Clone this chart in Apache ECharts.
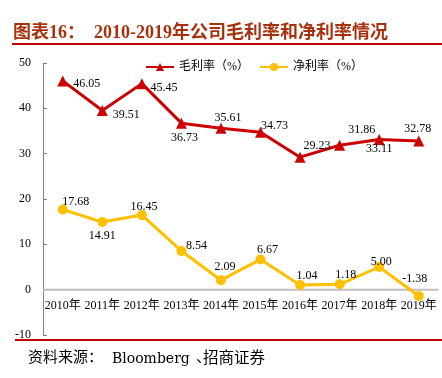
<!DOCTYPE html>
<html><head><meta charset="utf-8">
<script src="https://cdn.jsdelivr.net/npm/echarts@6/dist/echarts.min.js"></script>
<style>html,body{margin:0;padding:0;background:#fff}#c{width:442px;height:378px}</style>
</head><body><div id="c"></div>
<script>
const categories = ['2010年','2011年','2012年','2013年','2014年','2015年','2016年','2017年','2018年','2019年'];
const grossMargin = [46.05, 39.51, 45.45, 36.73, 35.61, 34.73, 29.23, 31.86, 33.11, 32.78];
const netMargin = [17.68, 14.91, 16.45, 8.54, 2.09, 6.67, 1.04, 1.18, 5.00, -1.38];
const seriesNames = ['毛利率（%）', '净利率（%）'];
const yTicks = {min: -10, max: 50, interval: 10};

// label offsets (styling) relative to each point
const grossOffsets = [[24,3],[24,4],[22,4],[3,15],[7,-10],[14,-6],[17,-11],[22,-15],[0,9],[-1,-12]];
const netOffsets = [[13,-8],[0,14],[2,-8],[15,-5],[4,-13],[7,-10],[7,-9],[6,-9],[2,-5],[-4,-17]];

const serif = '"Liberation Serif","Times New Roman","Noto Sans CJK SC",serif';
function mk(vals, offs){
  return vals.map((v,i)=>({value:v, label:{offset:offs[i]}}));
}
const gridTop = 63, gridBottom = 43, gridLeft = 43, gridRight = 3.5, W = 442, H = 378;
const plotH = H - gridTop - gridBottom;
const zeroOffset = -plotH * (0 - yTicks.min) / (yTicks.max - yTicks.min);

const chart = echarts.init(document.getElementById('c'));
chart.setOption({
  animation:false,
  graphic:[
    {id:'title', type:'text', left:13, top:24, style:{text:'图表16：  2010-2019年公司毛利率和净利率情况', font:'bold 18px '+serif, fill:'#A8300D'}},
    {id:'r1', type:'rect', shape:{x:12,y:43,width:430,height:2}, style:{fill:'#C00000'}},
    {id:'r2', type:'rect', shape:{x:15,y:339,width:427,height:2}, style:{fill:'#C00000'}},
    {id:'f1', type:'text', left:28, top:351, style:{text:'资料来源：', font:'15px '+serif, fill:'#000'}},
    {id:'f2', type:'text', left:112, top:352, style:{text:'Bloomberg', font:'14px "DejaVu Serif",serif', fill:'#000'}},
    {id:'f3', type:'text', left:196, top:351, style:{text:'、', font:'15px '+serif, fill:'#000'}},
    {id:'f4', type:'text', left:203, top:351, style:{text:'招商证券', font:'15.5px '+serif, fill:'#000'}}
  ],
  legend:{
    left:145, top:61, padding:0, itemWidth:28, itemHeight:10, itemGap:10,
    textStyle:{fontFamily:serif, fontSize:12, color:'#000'},
    data:seriesNames
  },
  grid:{left:gridLeft, right:gridRight, top:gridTop, bottom:gridBottom, containLabel:false},
  xAxis:{
    type:'category', data:categories, boundaryGap:true,
    offset: zeroOffset,
    axisLine:{show:false},
    axisTick:{show:false},
    axisLabel:{fontFamily:serif, fontSize:12, color:'#000', margin:10, interval:0}
  },
  yAxis:{
    type:'value', min:yTicks.min, max:yTicks.max, interval:yTicks.interval,
    axisLine:{show:true, lineStyle:{color:'#808080', width:1}},
    axisTick:{show:true, inside:true, length:4, lineStyle:{color:'#808080'}},
    splitLine:{show:false},
    axisLabel:{fontFamily:serif, fontSize:12, color:'#000', margin:12}
  },
  series:[
    {name:seriesNames[0], type:'line', data:mk(grossMargin, grossOffsets),
     symbol:'triangle', symbolSize:11, lineStyle:{color:'#CC0000', width:3},
     itemStyle:{color:'#CC0000'}, z:3,
     label:{show:true, position:'inside', fontFamily:serif, fontSize:12, color:'#000', formatter:p=>p.value.toFixed(2)}},
    {name:seriesNames[1], type:'line', data:mk(netMargin, netOffsets),
     symbol:'circle', symbolSize:10, lineStyle:{color:'#FFC000', width:3},
     itemStyle:{color:'#FFC000'}, z:3,
     label:{show:true, position:'inside', fontFamily:serif, fontSize:12, color:'#000', formatter:p=>p.value.toFixed(2)}}
  ]
});
// zero line placed through the library's y scale
const y0 = chart.convertToPixel({yAxisIndex:0}, 0);
chart.setOption({
  graphic:[
    {id:'zero', type:'line', z:1, shape:{x1:gridLeft, y1:y0, x2:W-gridRight, y2:y0},
     style:{stroke:'#BFBFBF', lineWidth:2}}
  ]
});
</script></body></html>
